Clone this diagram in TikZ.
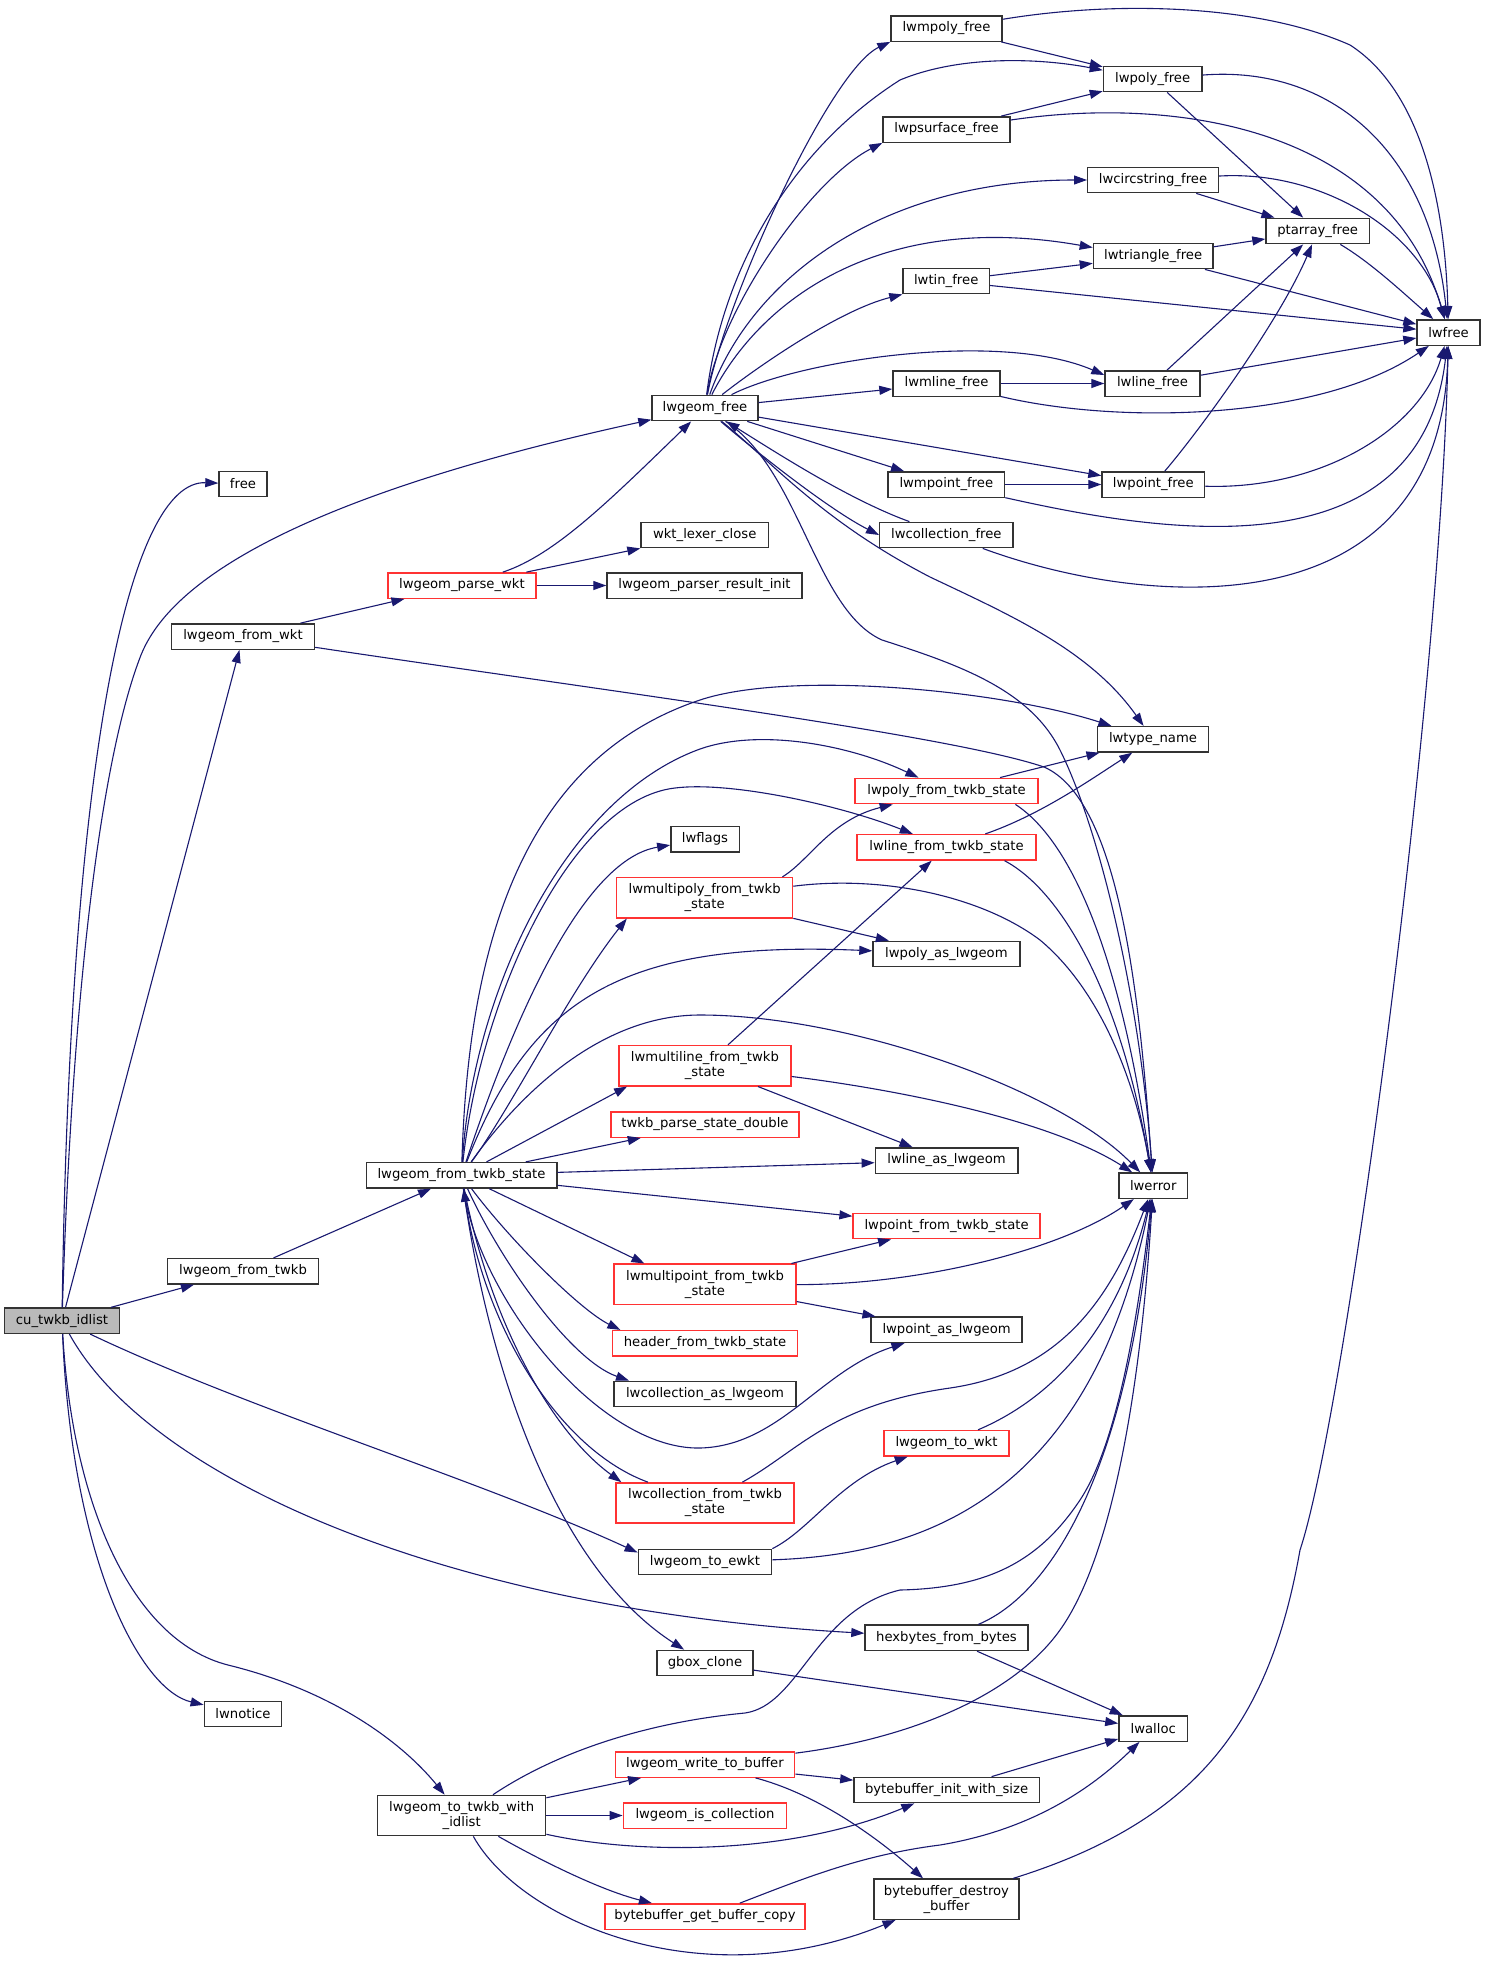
\documentclass[tikz,border=0pt]{standalone}
\usepackage{fontspec}
\setmainfont{DejaVu Sans}
\usetikzlibrary{arrows.meta}
\definecolor{edgeblue}{HTML}{191970}
\definecolor{truncred}{HTML}{FF3333}

\begin{document}
\begin{tikzpicture}[x=0.5pt, y=-0.5pt, >={Triangle[length=6.5pt, width=4.5pt]},
    fn/.style={rectangle, draw=black!80, line width=0.7pt, fill=white, inner sep=0pt,
      minimum height=12.7pt, font=\fontsize{6.6pt}{7.5pt}\selectfont},
    trunc/.style={fn, draw=truncred},
    root/.style={fn, fill=black!27},
    tall/.style={minimum height=20.15pt, align=center},
    call/.style={->, draw=edgeblue, line width=0.55pt}]
  \path[use as bounding box, fill=white] (0,0) rectangle (1485,1965);

  \node[root, minimum width=57.5pt] (cu) at (62,1320.7) {cu\_twkb\_idlist};
  \node[fn, minimum width=24pt] (free) at (243,484) {free};
  \node[fn, minimum width=53pt] (geomfree) at (705,408) {lwgeom\_free};
  \node[fn, minimum width=55.5pt] (mpolyfree) at (946.5,28.5) {lwmpoly\_free};
  \node[fn, minimum width=49.2pt] (polyfree) at (1152.6,79) {lwpoly\_free};
  \node[fn, minimum width=63.5pt] (psurffree) at (946.5,129.5) {lwpsurface\_free};
  \node[fn, minimum width=65.3pt] (circfree) at (1153,180) {lwcircstring\_free};
  \node[fn, minimum width=51.7pt] (ptafree) at (1317.7,231) {ptarray\_free};
  \node[fn, minimum width=59.8pt] (trifree) at (1153.2,256) {lwtriangle\_free};
  \node[fn, minimum width=43.2pt] (tinfree) at (946.2,281) {lwtin\_free};
  \node[fn, minimum width=31.5pt] (lwfree) at (1448.5,332.5) {lwfree};
  \node[fn, minimum width=53.5pt] (mlinefree) at (946.5,383.5) {lwmline\_free};
  \node[fn, minimum width=47.5pt] (linefree) at (1152.5,383.5) {lwline\_free};
  \node[fn, minimum width=58.3pt] (mptfree) at (946.3,484.5) {lwmpoint\_free};
  \node[fn, minimum width=51.3pt] (ptfree) at (1153.3,484.5) {lwpoint\_free};
  \node[fn, minimum width=66.6pt] (collfree) at (946.3,535) {lwcollection\_free};
  \node[fn, minimum width=63.7pt] (lexclose) at (704.7,535) {wkt\_lexer\_close};
  \node[trunc, minimum width=74pt] (parsewkt) at (462,585.5) {lwgeom\_parse\_wkt};
  \node[fn, minimum width=97.5pt] (resinit) at (704.5,585.5) {lwgeom\_parser\_result\_init};
  \node[fn, minimum width=71.5pt] (fromwkt) at (243,636.5) {lwgeom\_from\_wkt};
  \node[fn, minimum width=55.3pt] (typename) at (1153,739.3) {lwtype\_name};
  \node[trunc, minimum width=91.5pt] (polytwkb) at (946.5,791) {lwpoly\_from\_twkb\_state};
  \node[fn, minimum width=34.2pt] (flags) at (705,839.3) {lwflags};
  \node[trunc, minimum width=89.5pt] (linetwkb) at (946.5,847.3) {lwline\_from\_twkb\_state};
  \node[trunc, tall, minimum width=88pt] (mpolytwkb) at (704.6,897.7) {lwmultipoly\_from\_twkb\\\_state};
  \node[fn, minimum width=73.4pt] (polyas) at (946.4,954) {lwpoly\_as\_lwgeom};
  \node[trunc, tall, minimum width=86pt] (mlinetwkb) at (704.9,1065.7) {lwmultiline\_from\_twkb\\\_state};
  \node[trunc, minimum width=94pt] (parsedbl) at (705,1124.5) {twkb\_parse\_state\_double};
  \node[fn, minimum width=71.3pt] (lineas) at (946.6,1160.5) {lwline\_as\_lwgeom};
  \node[fn, minimum width=95.3pt] (statetwkb) at (461.5,1175.3) {lwgeom\_from\_twkb\_state};
  \node[fn, minimum width=34.3pt] (lwerror) at (1153.2,1185.7) {lwerror};
  \node[trunc, minimum width=93.5pt] (pttwkb) at (946.6,1226) {lwpoint\_from\_twkb\_state};
  \node[fn, minimum width=75.3pt] (fromtwkb) at (243,1271.3) {lwgeom\_from\_twkb};
  \node[trunc, tall, minimum width=91pt] (mpttwkb) at (705,1284.3) {lwmultipoint\_from\_twkb\\\_state};
  \node[fn, minimum width=75.5pt] (ptas) at (946.6,1329.8) {lwpoint\_as\_lwgeom};
  \node[trunc, minimum width=92.3pt] (header) at (705,1343.3) {header\_from\_twkb\_state};
  \node[fn, minimum width=91pt] (collas) at (705,1394) {lwcollection\_as\_lwgeom};
  \node[trunc, minimum width=62.5pt] (towkt) at (946.5,1443.2) {lwgeom\_to\_wkt};
  \node[trunc, tall, minimum width=89pt] (colltwkb) at (705,1503) {lwcollection\_from\_twkb\\\_state};
  \node[fn, minimum width=66.7pt] (toewkt) at (705,1562) {lwgeom\_to\_ewkt};
  \node[fn, minimum width=81.5pt] (hexbytes) at (946.5,1637.8) {hexbytes\_from\_bytes};
  \node[fn, minimum width=47.9pt] (gbox) at (705,1663) {gbox\_clone};
  \node[fn, minimum width=38.7pt] (notice) at (243,1714) {lwnotice};
  \node[fn, minimum width=34.3pt] (lwalloc) at (1153.2,1728.5) {lwalloc};
  \node[trunc, minimum width=89.7pt] (writebuf) at (705,1764.5) {lwgeom\_write\_to\_buffer};
  \node[fn, minimum width=92.7pt] (bbinit) at (946.6,1790) {bytebuffer\_init\_with\_size};
  \node[fn, tall, minimum width=84pt] (totwkb) at (461.7,1815.5) {lwgeom\_to\_twkb\_with\\\_idlist};
  \node[trunc, minimum width=81.7pt] (iscoll) at (705,1815.5) {lwgeom\_is\_collection};
  \node[fn, tall, minimum width=72.5pt] (bbdestroy) at (946.5,1899.2) {bytebuffer\_destroy\\\_buffer};
  \node[trunc, minimum width=100pt] (bbcopy) at (705,1916.5) {bytebuffer\_get\_buffer\_copy};

  \draw[call] (cu) .. controls (70,750) and (130,480) .. (free);
  \draw[call] (cu) .. controls (72,1000) and (100,760) .. (141,655) .. controls (185,545) and (420,470) .. (geomfree);
  \draw[call] (cu) -- (fromwkt);
  \draw[call] (cu) -- (fromtwkb);
  \draw[call] (cu) .. controls (250,1410) and (480,1480) .. (toewkt.172);
  \draw[call] (cu) .. controls (150,1480) and (450,1610) .. (hexbytes);
  \draw[call] (cu) .. controls (72,1560) and (140,1690) .. (notice);
  \draw[call] (cu) .. controls (72,1500) and (130,1640) .. (228,1665) .. controls (330,1690) and (400,1740) .. (totwkb);

  \draw[call] (fromwkt) -- (parsewkt);
  \draw[call] (fromwkt) .. controls (600,690) and (950,735) .. (1044,767) .. controls (1120,800) and (1140,1000) .. (lwerror);
  \draw[call] (parsewkt) .. controls (555,555) and (610,500) .. (geomfree);
  \draw[call] (parsewkt) -- (lexclose);
  \draw[call] (parsewkt) -- (resinit);

  \draw[call] (geomfree) .. controls (725,300) and (830,70) .. (mpolyfree.south west);
  \draw[call] (geomfree) .. controls (722,270) and (790,150) .. (900,80) .. controls (960,55) and (1040,58) .. (polyfree.170);
  \draw[call] (geomfree) .. controls (720,310) and (810,180) .. (psurffree.south west);
  \draw[call] (geomfree) .. controls (750,280) and (880,180) .. (circfree);
  \draw[call] (geomfree) .. controls (760,300) and (880,210) .. (trifree.172);
  \draw[call] (geomfree) .. controls (760,365) and (840,310) .. (tinfree.south west);
  \draw[call] (geomfree) .. controls (800,360) and (1000,330) .. (linefree.170);
  \draw[call] (geomfree) -- (mlinefree);
  \draw[call] (geomfree) -- (ptfree);
  \draw[call] (geomfree) -- (mptfree);
  \draw[call] (geomfree) .. controls (760,455) and (830,510) .. (collfree.west);
  \draw[call] (collfree) .. controls (850,500) and (780,455) .. (geomfree);
  \draw[call] (geomfree) .. controls (770,460) and (820,520) .. (930,577) .. controls (1010,615) and (1090,650) .. (typename);
  \draw[call] (geomfree) .. controls (800,470) and (815,610) .. (882,640) .. controls (960,665) and (1030,690) .. (1060,750) .. controls (1100,830) and (1140,1000) .. (lwerror);

  \draw[call] (mpolyfree) -- (polyfree);
  \draw[call] (mpolyfree) .. controls (1120,0) and (1260,5) .. (1350,45) .. controls (1420,90) and (1445,200) .. (lwfree);
  \draw[call] (psurffree) -- (polyfree);
  \draw[call] (psurffree) .. controls (1180,95) and (1390,130) .. (lwfree);
  \draw[call] (polyfree) .. controls (1330,65) and (1430,150) .. (lwfree);
  \draw[call] (polyfree) -- (ptafree);
  \draw[call] (circfree) -- (ptafree);
  \draw[call] (circfree) .. controls (1320,170) and (1420,230) .. (lwfree);
  \draw[call] (ptafree) .. controls (1370,262) and (1400,290) .. (lwfree);
  \draw[call] (trifree) -- (ptafree);
  \draw[call] (trifree) -- (lwfree);
  \draw[call] (tinfree) -- (trifree);
  \draw[call] (tinfree) -- (lwfree);
  \draw[call] (linefree) -- (ptafree);
  \draw[call] (linefree) -- (lwfree);
  \draw[call] (mlinefree) -- (linefree);
  \draw[call] (mlinefree) .. controls (1120,425) and (1320,420) .. (lwfree);
  \draw[call] (ptfree) .. controls (1200,430) and (1280,320) .. (ptafree);
  \draw[call] (ptfree) .. controls (1320,490) and (1420,430) .. (lwfree);
  \draw[call] (mptfree) -- (ptfree);
  \draw[call] (mptfree) .. controls (1150,530) and (1420,580) .. (lwfree);
  \draw[call] (collfree) .. controls (1150,610) and (1440,630) .. (lwfree);

  \draw[call] (fromtwkb) -- (statetwkb);
  \draw[call] (statetwkb) .. controls (468,950) and (520,760) .. (700,700) .. controls (790,670) and (1000,690) .. (typename);
  \draw[call] (statetwkb) .. controls (472,1000) and (560,800) .. (700,749) .. controls (760,728) and (850,745) .. (polytwkb);
  \draw[call] (statetwkb) .. controls (480,1000) and (570,800) .. (675,788) .. controls (730,781) and (840,805) .. (linetwkb);
  \draw[call] (statetwkb) .. controls (510,1030) and (580,860) .. (flags);
  \draw[call] (statetwkb) .. controls (510,1110) and (570,990) .. (mpolytwkb.195);
  \draw[call] (statetwkb) .. controls (530,1000) and (620,940) .. (polyas);
  \draw[call] (statetwkb) .. controls (530,1080) and (610,1015) .. (700,1015) .. controls (850,1015) and (1060,1090) .. (lwerror);
  \draw[call] (statetwkb) -- (mlinetwkb.195);
  \draw[call] (statetwkb) -- (parsedbl);
  \draw[call] (statetwkb) -- (lineas);
  \draw[call] (statetwkb) -- (pttwkb);
  \draw[call] (statetwkb) -- (mpttwkb.161);
  \draw[call] (statetwkb) .. controls (510,1240) and (580,1310) .. (header.171);
  \draw[call] (statetwkb) .. controls (500,1260) and (570,1360) .. (collas.170);
  \draw[call] (statetwkb) .. controls (480,1300) and (600,1450) .. (700,1448) .. controls (780,1446) and (820,1370) .. (ptas);
  \draw[call] (statetwkb) .. controls (490,1320) and (550,1430) .. (colltwkb.166);
  \draw[call] (colltwkb) .. controls (560,1450) and (485,1330) .. (statetwkb);
  \draw[call] (statetwkb) .. controls (490,1380) and (560,1570) .. (gbox);

  \draw[call] (mpolytwkb.15) .. controls (810,860) and (830,820) .. (polytwkb);
  \draw[call] (mpolytwkb) -- (polyas);
  \draw[call] (mpolytwkb) .. controls (880,875) and (980,895) .. (1040,940) .. controls (1100,990) and (1135,1080) .. (lwerror);
  \draw[call] (mlinetwkb) -- (linetwkb);
  \draw[call] (mlinetwkb) -- (lineas);
  \draw[call] (mlinetwkb) .. controls (900,1090) and (1050,1120) .. (lwerror);
  \draw[call] (mpttwkb) -- (pttwkb);
  \draw[call] (mpttwkb) -- (ptas);
  \draw[call] (mpttwkb) .. controls (920,1285) and (1060,1250) .. (lwerror);
  \draw[call] (polytwkb) -- (typename);
  \draw[call] (polytwkb.349) .. controls (1070,840) and (1120,950) .. (lwerror);
  \draw[call] (linetwkb) .. controls (1040,815) and (1090,780) .. (typename);
  \draw[call] (linetwkb.347) .. controls (1060,890) and (1120,990) .. (lwerror);
  \draw[call] (colltwkb) .. controls (800,1450) and (830,1405) .. (950,1388) .. controls (1060,1372) and (1110,1300) .. (lwerror);

  \draw[call] (toewkt.north east) .. controls (810,1530) and (840,1480) .. (towkt);
  \draw[call] (toewkt) .. controls (920,1555) and (1090,1500) .. (lwerror);
  \draw[call] (towkt) .. controls (1060,1395) and (1120,1320) .. (lwerror);
  \draw[call] (hexbytes) .. controls (1060,1590) and (1130,1450) .. (lwerror);
  \draw[call] (hexbytes) -- (lwalloc);
  \draw[call] (gbox) -- (lwalloc);
  \draw[call] (totwkb) .. controls (560,1750) and (650,1722) .. (745,1713) .. controls (800,1705) and (815,1610) .. (900,1590) .. controls (990,1588) and (1040,1560) .. (1080,1500) .. controls (1120,1440) and (1140,1300) .. (lwerror);
  \draw[call] (totwkb) -- (writebuf);
  \draw[call] (totwkb) -- (iscoll);
  \draw[call] (totwkb) .. controls (640,1855) and (790,1855) .. (bbinit);
  \draw[call] (totwkb) .. controls (540,1860) and (600,1890) .. (bbcopy);
  \draw[call] (totwkb) .. controls (520,1920) and (700,2000) .. (bbdestroy);
  \draw[call] (writebuf) .. controls (900,1740) and (1010,1700) .. (1060,1630) .. controls (1110,1560) and (1140,1400) .. (lwerror);
  \draw[call] (writebuf) -- (bbinit);
  \draw[call] (writebuf) .. controls (820,1795) and (880,1840) .. (bbdestroy);
  \draw[call] (bbinit) -- (lwalloc);
  \draw[call] (bbcopy) .. controls (800,1880) and (860,1855) .. (940,1845) .. controls (1030,1830) and (1090,1790) .. (lwalloc);
  \draw[call] (bbdestroy) .. controls (1200,1820) and (1270,1720) .. (1300,1550) .. controls (1345,1415) and (1440,700) .. (lwfree);
\end{tikzpicture}
\end{document}
